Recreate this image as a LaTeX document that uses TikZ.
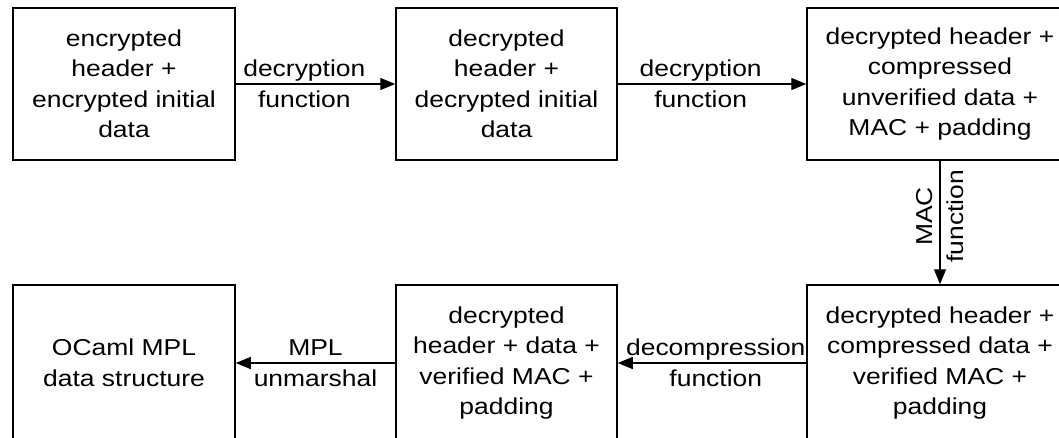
\documentclass[tikz,border=0pt]{standalone}
\usepackage{fontspec}
\setmainfont{Liberation Sans}[FakeStretch=1.15]
\usetikzlibrary{arrows.meta}
\begin{document}
\begin{tikzpicture}[x=1pt,y=-1pt,
  every node/.style={font=\fontsize{23}{30.5}\selectfont},
  box/.style={draw=black, line width=1.5pt, rectangle, align=center, inner sep=0pt, minimum height=152pt},
  lowbox/.style={box, minimum height=156pt},
  arr/.style={draw=black, line width=1.4pt, -{Triangle[length=15pt,width=12pt]}},
  lbl/.style={align=center, inner sep=0pt}]
\useasboundingbox (0,0) rectangle (1059,437);
\fill[white] (0,0) rectangle (1059,437);
\clip (0,0) rectangle (1059,437);
% top row
\node[box, minimum width=222pt] (b1) at (124,84) {encrypted\\header +\\encrypted initial\\data};
\node[box, minimum width=221pt] (b2) at (506.5,84) {decrypted\\header +\\decrypted initial\\data};
\node[box, minimum width=266pt] (b3) at (940,84) {decrypted header +\\compressed\\unverified data +\\MAC + padding};
% bottom row
\node[lowbox, minimum width=222pt] (b4) at (124,363) {OCaml MPL\\data structure};
\node[lowbox, minimum width=221pt] (b5) at (506.5,363) {decrypted\\header + data +\\verified MAC +\\padding};
\node[lowbox, minimum width=266pt] (b6) at (940,363) {decrypted header +\\compressed data +\\verified MAC +\\padding};
% connectors
\draw[arr] (b1.east) -- (b2.west) node[lbl, pos=0.43] {decryption\\function};
\draw[arr] (b2.east) -- (b3.west) node[lbl, pos=0.44] {decryption\\function};
\draw[arr] (b3.south) -- (b6.north) node[lbl, pos=0.45, rotate=90] {MAC\\function};
\draw[arr] (b6.west) -- (b5.east) node[lbl, pos=0.48] {decompression\\function};
\draw[arr] (b5.west) -- (b4.east) node[lbl, pos=0.5] {MPL\\unmarshal};
\end{tikzpicture}
\end{document}
